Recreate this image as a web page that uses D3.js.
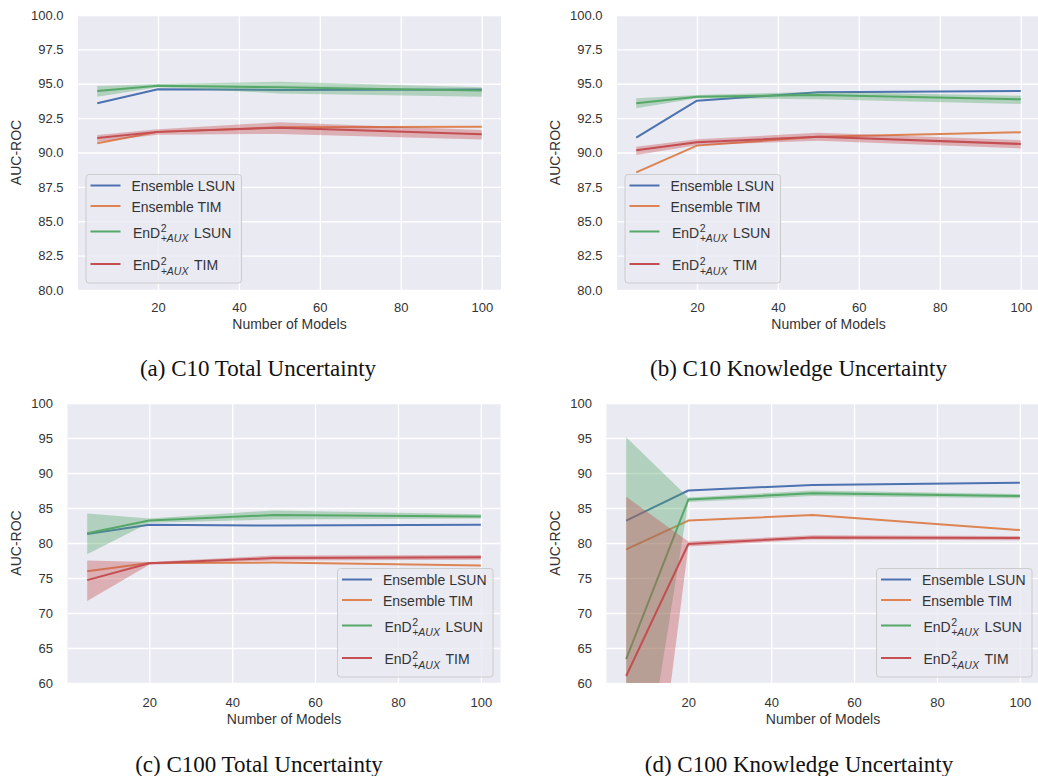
<!DOCTYPE html>
<html>
<head>
<meta charset="utf-8">
<script src="https://cdn.jsdelivr.net/npm/d3@7"></script>
<style>
  body { margin: 0; background: #ffffff; }
  svg { display: block; }
</style>
</head>
<body>
<svg id="fig" width="1038" height="776"></svg>
<script>
// ---- shared axes data ----
const modelCounts = [5, 20, 50, 100];
const xTicks = [20, 40, 60, 80, 100];
const yTicksC10 = [80, 82.5, 85, 87.5, 90, 92.5, 95, 97.5, 100];
const yTicksC100 = [60, 65, 70, 75, 80, 85, 90, 95, 100];

const seriesColors = ["#4c72b0", "#dd8452", "#55a868", "#c44e52"];
const legendLabels = [
  { base: "Ensemble LSUN" },
  { base: "Ensemble TIM" },
  { base: "EnD", sup: "2", sub: "+AUX", tail: "LSUN" },
  { base: "EnD", sup: "2", sub: "+AUX", tail: "TIM" }
];

// ---- (a) C10 total uncertainty ----
const c10TotalEnsLSUN = [93.58, 94.6, 94.55, 94.58];
const c10TotalEnsTIM  = [90.67, 91.5, 91.83, 91.88];
const c10TotalEndLSUN = [94.47, 94.86, 94.74, 94.5];
const c10TotalEndLSUNLo = [94.05, 94.74, 94.3, 94.05];
const c10TotalEndLSUNHi = [94.84, 94.98, 95.15, 94.74];
const c10TotalEndTIM  = [91.05, 91.5, 91.8, 91.32];
const c10TotalEndTIMLo = [90.79, 91.3, 91.35, 90.95];
const c10TotalEndTIMHi = [91.27, 91.7, 92.2, 91.64];

// ---- (b) C10 knowledge uncertainty ----
const c10KnowEnsLSUN = [91.08, 93.77, 94.38, 94.47];
const c10KnowEnsTIM  = [88.56, 90.5, 91.15, 91.47];
const c10KnowEndLSUN = [93.58, 94.06, 94.18, 93.87];
const c10KnowEndLSUNLo = [93.21, 93.94, 93.87, 93.53];
const c10KnowEndLSUNHi = [93.94, 94.18, 94.42, 94.13];
const c10KnowEndTIM  = [90.16, 90.74, 91.15, 90.62];
const c10KnowEndTIMLo = [89.82, 90.52, 90.86, 90.3];
const c10KnowEndTIMHi = [90.42, 90.96, 91.44, 90.9];

// ---- (c) C100 total uncertainty ----
const c100TotalEnsLSUN = [81.3, 82.6, 82.5, 82.6];
const c100TotalEnsTIM  = [75.95, 77.14, 77.2, 76.8];
const c100TotalEndLSUN = [81.4, 83.2, 84.0, 83.8];
const c100TotalEndLSUNLo = [78.4, 82.9, 83.35, 83.5];
const c100TotalEndLSUNHi = [84.2, 83.5, 84.65, 84.1];
const c100TotalEndTIM  = [74.7, 77.1, 77.85, 77.95];
const c100TotalEndTIMLo = [71.7, 76.9, 77.5, 77.6];
const c100TotalEndTIMHi = [77.5, 77.3, 78.2, 78.3];

// ---- (d) C100 knowledge uncertainty ----
const c100KnowEnsLSUN = [83.2, 87.5, 88.3, 88.6];
const c100KnowEnsTIM  = [79.1, 83.2, 84.0, 81.85];
const c100KnowEndLSUN = [63.4, 86.2, 87.1, 86.7];
const c100KnowEndLSUNLo = [30.4, 85.85, 86.7, 86.4];
const c100KnowEndLSUNHi = [95.1, 86.5, 87.5, 87.0];
const c100KnowEndTIM  = [61.0, 79.85, 80.8, 80.7];
const c100KnowEndTIMLo = [10.0, 79.5, 80.5, 80.4];
const c100KnowEndTIMHi = [86.6, 80.2, 81.1, 81.0];

const panels = [
  {
    caption: "(a) C10 Total Uncertainty",
    box: { left: 78, right: 501, top: 15, bottom: 290 },
    yDomain: [80, 100], yTicks: yTicksC10, yFmt: d3.format(".1f"),
    xPad: 12.5, xLabelOff: 34, legendPos: "lower left",
    capX: 258, capY: 376,
    series: [
      { mean: c10TotalEnsLSUN },
      { mean: c10TotalEnsTIM },
      { mean: c10TotalEndLSUN, lo: c10TotalEndLSUNLo, hi: c10TotalEndLSUNHi },
      { mean: c10TotalEndTIM, lo: c10TotalEndTIMLo, hi: c10TotalEndTIMHi }
    ]
  },
  {
    caption: "(b) C10 Knowledge Uncertainty",
    box: { left: 617, right: 1040, top: 15, bottom: 290 },
    yDomain: [80, 100], yTicks: yTicksC10, yFmt: d3.format(".1f"),
    xPad: 12.5, xLabelOff: 34, legendPos: "lower left",
    capX: 798.5, capY: 376,
    series: [
      { mean: c10KnowEnsLSUN },
      { mean: c10KnowEnsTIM },
      { mean: c10KnowEndLSUN, lo: c10KnowEndLSUNLo, hi: c10KnowEndLSUNHi },
      { mean: c10KnowEndTIM, lo: c10KnowEndTIMLo, hi: c10KnowEndTIMHi }
    ]
  },
  {
    caption: "(c) C100 Total Uncertainty",
    box: { left: 67.5, right: 500.5, top: 403, bottom: 683 },
    yDomain: [60, 100], yTicks: yTicksC100, yFmt: d3.format("d"),
    xPad: 14.5, xLabelOff: 36, legendPos: "lower right",
    capX: 259, capY: 771.5,
    series: [
      { mean: c100TotalEnsLSUN },
      { mean: c100TotalEnsTIM },
      { mean: c100TotalEndLSUN, lo: c100TotalEndLSUNLo, hi: c100TotalEndLSUNHi },
      { mean: c100TotalEndTIM, lo: c100TotalEndTIMLo, hi: c100TotalEndTIMHi }
    ]
  },
  {
    caption: "(d) C100 Knowledge Uncertainty",
    box: { left: 606.5, right: 1039.5, top: 403, bottom: 683 },
    yDomain: [60, 100], yTicks: yTicksC100, yFmt: d3.format("d"),
    xPad: 14.5, xLabelOff: 36, legendPos: "lower right",
    capX: 799, capY: 771.5,
    series: [
      { mean: c100KnowEnsLSUN },
      { mean: c100KnowEnsTIM },
      { mean: c100KnowEndLSUN, lo: c100KnowEndLSUNLo, hi: c100KnowEndLSUNHi },
      { mean: c100KnowEndTIM, lo: c100KnowEndTIMLo, hi: c100KnowEndTIMHi }
    ]
  }
];

const SANS = "'Liberation Sans', Arial, sans-serif";
const SERIF = "'Liberation Serif', 'Times New Roman', serif";
const TEXT = "#333333";

const svg = d3.select("#fig");
svg.append("rect").attr("width", 1038).attr("height", 776).attr("fill", "#ffffff");

panels.forEach((p, pi) => drawPanel(p, pi));

function drawPanel(p, pi) {
  const b = p.box;
  const g = svg.append("g");
  const x = d3.scaleLinear().domain([0.25, 104.75]).range([b.left, b.right]);
  const y = d3.scaleLinear().domain(p.yDomain).range([b.bottom, b.top]);

  // plotting area background
  g.append("rect")
    .attr("x", b.left).attr("y", b.top)
    .attr("width", b.right - b.left).attr("height", b.bottom - b.top)
    .attr("fill", "#eaeaf2");

  // x axis with full-height white gridlines
  const gx = g.append("g")
    .attr("transform", `translate(0,${b.bottom})`)
    .call(d3.axisBottom(x).tickValues(xTicks).tickFormat(d3.format("d"))
      .tickSize(-(b.bottom - b.top)).tickPadding(p.xPad));
  // y axis with full-width white gridlines
  const gy = g.append("g")
    .attr("transform", `translate(${b.left},0)`)
    .call(d3.axisLeft(y).tickValues(p.yTicks).tickFormat(p.yFmt)
      .tickSize(-(b.right - b.left)).tickPadding(14.5));

  [gx, gy].forEach(ax => {
    ax.select(".domain").remove();
    ax.selectAll(".tick line").attr("stroke", "#ffffff").attr("stroke-width", 1.3);
    ax.selectAll(".tick text")
      .attr("fill", TEXT).style("font-family", SANS).style("font-size", "13px");
  });

  // clip series to the plotting area
  const clipId = "clip" + pi;
  svg.append("clipPath").attr("id", clipId).append("rect")
    .attr("x", b.left).attr("y", b.top)
    .attr("width", b.right - b.left).attr("height", b.bottom - b.top);
  const plot = g.append("g").attr("clip-path", `url(#${clipId})`);

  const line = d3.line().x((d, i) => x(modelCounts[i])).y(d => y(d));
  const area = d3.area()
    .x(d => x(d.n)).y0(d => y(d.lo)).y1(d => y(d.hi));

  p.series.forEach((s, si) => {
    if (s.lo) {
      const band = modelCounts.map((n, i) => ({ n, lo: s.lo[i], hi: s.hi[i] }));
      plot.append("path").datum(band)
        .attr("d", area)
        .attr("fill", seriesColors[si]).attr("fill-opacity", 0.38)
        .attr("stroke", "none");
    }
    plot.append("path").datum(s.mean)
      .attr("d", line)
      .attr("fill", "none")
      .attr("stroke", seriesColors[si])
      .attr("stroke-width", 2)
      .attr("stroke-linejoin", "round")
      .attr("stroke-linecap", "butt");
  });

  // axis titles
  const tickLeft = d3.min(gy.selectAll(".tick text").nodes(), n => {
    const bb = n.getBBox();
    const m = n.parentNode.transform.baseVal.consolidate();
    return bb.x + (m ? m.matrix.e : 0) + b.left;
  });
  g.append("text")
    .attr("transform", `translate(${tickLeft - 15},${(b.top + b.bottom) / 2}) rotate(-90)`)
    .attr("text-anchor", "middle").attr("dy", "0.35em")
    .attr("fill", TEXT).style("font-family", SANS).style("font-size", "14px")
    .text("AUC-ROC");
  g.append("text")
    .attr("x", (b.left + b.right) / 2).attr("y", b.bottom + p.xLabelOff)
    .attr("text-anchor", "middle").attr("dy", "0.35em")
    .attr("fill", TEXT).style("font-family", SANS).style("font-size", "14px")
    .text("Number of Models");

  drawLegend(g, p);

  // caption below the panel
  svg.append("text")
    .attr("x", p.capX).attr("y", p.capY)
    .attr("text-anchor", "middle")
    .attr("fill", "#111111")
    .style("font-family", SERIF).style("font-size", "23px")
    .text(p.caption);
}

function drawLegend(g, p) {
  const b = p.box;
  const rows = [11, 31.5, 57, 89.5];
  const boxH = 108.5;
  const lg = g.append("g");
  const frame = lg.append("rect");
  const textX = 45.5;
  let maxEnd = 0;

  legendLabels.forEach((lab, i) => {
    const ry = rows[i];
    lg.append("line")
      .attr("x1", 4.5).attr("x2", 34.5).attr("y1", ry).attr("y2", ry)
      .attr("stroke", seriesColors[i]).attr("stroke-width", 2);
    const base = lg.append("text")
      .attr("x", lab.sup ? textX + 1.5 : textX).attr("y", ry + (lab.sup ? 1.5 : 0.7))
      .attr("dy", "0.35em")
      .attr("fill", TEXT).style("font-family", SANS).style("font-size", "14px")
      .text(lab.base);
    let end = (lab.sup ? textX + 1.5 : textX) + base.node().getComputedTextLength();
    if (lab.sup) {
      const by = ry + 1.5 + 0.35 * 14;
      const sx = end + 0.5;
      const sup = lg.append("text")
        .attr("x", sx).attr("y", by - 5.5)
        .attr("fill", TEXT).style("font-family", SANS).style("font-size", "10.5px")
        .text(lab.sup);
      const sub = lg.append("text")
        .attr("x", sx).attr("y", by + 4.5)
        .attr("fill", TEXT).style("font-family", SANS).style("font-size", "10.5px")
        .style("font-style", "italic")
        .text(lab.sub);
      const w = Math.max(sup.node().getComputedTextLength(), sub.node().getComputedTextLength());
      const tailX = sx + w + 5.5;
      const tail = lg.append("text")
        .attr("x", tailX).attr("y", by)
        .attr("fill", TEXT).style("font-family", SANS).style("font-size", "14px")
        .text(lab.tail);
      end = tailX + tail.node().getComputedTextLength();
    }
    maxEnd = Math.max(maxEnd, end);
  });

  const boxW = maxEnd + 6.5;
  frame.attr("x", 0).attr("y", 0).attr("width", boxW).attr("height", boxH)
    .attr("rx", 3).attr("ry", 3)
    .attr("fill", "#eaeaf2").attr("fill-opacity", 0.8)
    .attr("stroke", "#cccccc").attr("stroke-width", 1);

  let lx, ly;
  if (p.legendPos === "lower left") {
    lx = b.left + 8;
    ly = b.bottom - 7 - boxH;
  } else {
    lx = b.right - 7.5 - boxW;
    ly = b.bottom - 6 - boxH;
  }
  lg.attr("transform", `translate(${lx},${ly})`);
}
</script>
</body>
</html>
